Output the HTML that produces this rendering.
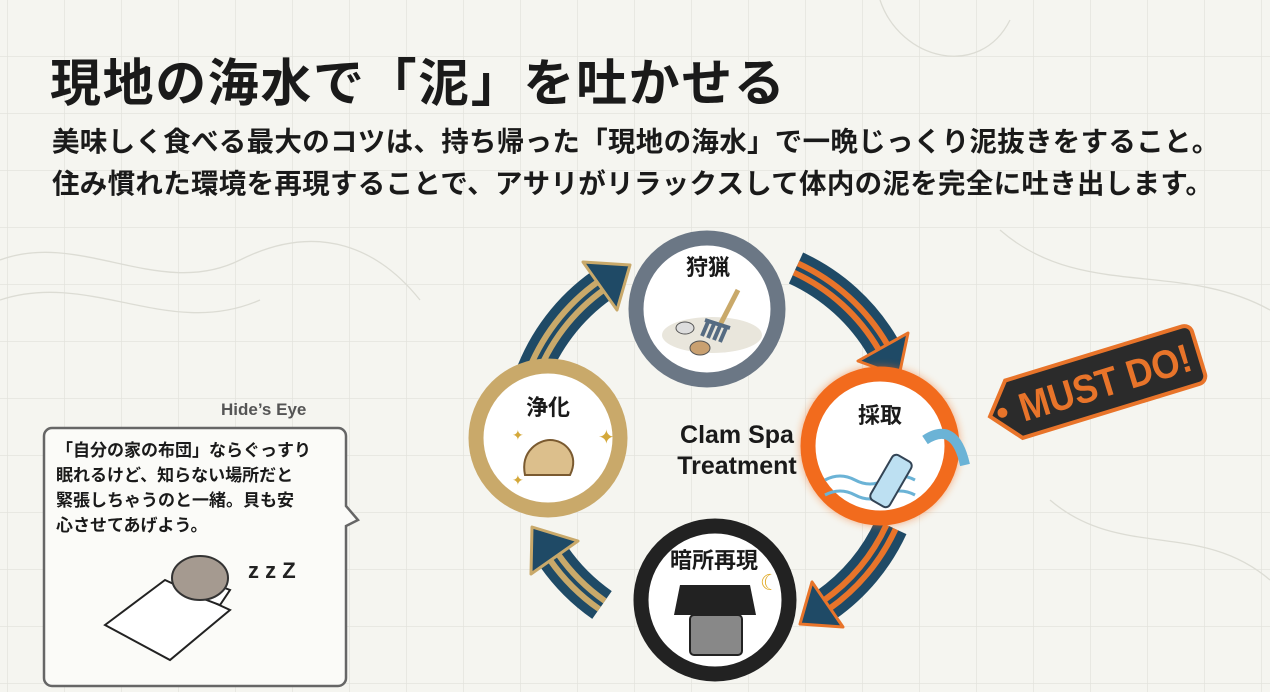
<!DOCTYPE html>
<html><head><meta charset="utf-8"><style>
body{margin:0;width:1270px;height:692px;overflow:hidden;background:#f5f5f0;font-family:"Liberation Sans","Noto Sans CJK JP",sans-serif}
.t{position:absolute;white-space:nowrap;color:#1a1a1a;font-weight:bold}
</style></head><body>
<svg width="1270" height="692" style="position:absolute;left:0;top:0">
<defs><pattern id="g" width="57" height="57" patternUnits="userSpaceOnUse" x="8" y="0"><path d="M57 0V57H0" fill="none" stroke="#e3e3dd" stroke-width="1.5"/></pattern>
<filter id="bl"><feGaussianBlur stdDeviation="4"/></filter></defs>
<rect width="1270" height="692" fill="url(#g)"/>
<g fill="none" stroke="#dcdcd4" stroke-width="1.3">
<path d="M0 260 C80 230 160 300 240 260 S380 250 420 300"/><path d="M0 300 C90 270 170 340 260 300"/><path d="M1000 230 C1080 300 1180 260 1270 310"/><path d="M1050 500 C1120 560 1200 520 1270 580"/><path d="M880 0 C900 60 980 80 1010 20"/></g>
<!-- arrows -->
<g fill="none">
<path d="M531 378 A195 195 0 0 1 602 285" stroke="#1f4a66" stroke-width="34"/>
<path d="M531 378 A195 195 0 0 1 602 285" stroke="#c9a96a" stroke-width="16"/>
<path d="M531 378 A195 195 0 0 1 602 285" stroke="#1f4a66" stroke-width="4"/>
<path d="M796 268 A195 195 0 0 1 883 347" stroke="#1f4a66" stroke-width="34"/>
<path d="M796 268 A195 195 0 0 1 883 347" stroke="#e8742a" stroke-width="16"/>
<path d="M796 268 A195 195 0 0 1 883 347" stroke="#1f4a66" stroke-width="4"/>
<path d="M891 527 A195 195 0 0 1 826 605" stroke="#1f4a66" stroke-width="34"/>
<path d="M891 527 A195 195 0 0 1 826 605" stroke="#e8742a" stroke-width="16"/>
<path d="M891 527 A195 195 0 0 1 826 605" stroke="#1f4a66" stroke-width="4"/>
<path d="M602 605 A195 195 0 0 1 554 557" stroke="#1f4a66" stroke-width="34"/>
<path d="M602 605 A195 195 0 0 1 554 557" stroke="#c9a96a" stroke-width="16"/>
<path d="M602 605 A195 195 0 0 1 554 557" stroke="#1f4a66" stroke-width="4"/>
</g>
<g fill="#1f4a66" stroke="#c9a96a" stroke-width="3" stroke-linejoin="round">
<polygon points="630,265 583,262 617,310"/>
<polygon points="532,527 531,574 578,541"/></g>
<g fill="#1f4a66" stroke="#e8742a" stroke-width="3" stroke-linejoin="round">
<polygon points="899,376 908,333 858,361"/>
<polygon points="800,624 843,627 812,582"/></g>
<!-- circles -->
<circle cx="880" cy="446" r="80" fill="#f26b1d" opacity=".5" filter="url(#bl)"/>
<circle cx="707" cy="309" r="71" fill="#fff" stroke="#6b7785" stroke-width="15"/>
<circle cx="548" cy="438" r="72" fill="#fff" stroke="#c9a96a" stroke-width="15"/>
<circle cx="880" cy="446" r="72" fill="#fff" stroke="#f26b1d" stroke-width="15"/>
<circle cx="715" cy="600" r="74" fill="#fff" stroke="#222" stroke-width="15"/>
<!-- icons -->
<ellipse cx="712" cy="335" rx="50" ry="18" fill="#e9e6dc"/>
<line x1="738" y1="290" x2="720" y2="325" stroke="#c9a96a" stroke-width="5"/>
<path d="M705 320 l25 8 M708 322 l-6 14 M714 324 l-6 14 M720 326 l-6 14 M726 328 l-6 14" stroke="#556b82" stroke-width="4" fill="none"/>
<ellipse cx="685" cy="328" rx="9" ry="6" fill="#ddd" stroke="#555"/>
<ellipse cx="700" cy="348" rx="10" ry="7" fill="#c9a070" stroke="#555"/>
<path d="M525 475 C520 450 540 440 550 440 C565 440 580 455 570 475 Z" fill="#dcbf8c" stroke="#7a5a30" stroke-width="2"/>
<text x="598" y="444" fill="#d4a83a" font-size="20">✦</text><text x="512" y="440" fill="#d4a83a" font-size="14">✦</text><text x="512" y="485" fill="#d4a83a" font-size="14">✦</text>
<path d="M825 480 q15 -8 30 0 t30 0 t30 0 M825 495 q15 -8 30 0 t30 0 t30 0" stroke="#6bb3d6" stroke-width="3" fill="none"/>
<rect x="880" y="455" width="22" height="52" rx="5" transform="rotate(30 891 481)" fill="#bde0f2" stroke="#345" stroke-width="2"/>
<path d="M925 440 q30 -20 40 25" stroke="#6bb3d6" stroke-width="10" fill="none"/>
<rect x="690" y="615" width="52" height="40" rx="4" fill="#888" stroke="#222" stroke-width="2"/>
<path d="M680 585 h70 l6 30 h-82 z" fill="#222"/>
<text x="760" y="590" font-size="22" fill="#e0a820">☾</text>
<!-- tag -->
<g transform="rotate(-17 1093 384)">
<path d="M1010 355 h185 a8 8 0 0 1 8 8 v44 a8 8 0 0 1 -8 8 h-185 l-25 -30 z" fill="#2b2b2b" stroke="#e8742a" stroke-width="4"/>
<circle cx="998" cy="385" r="5" fill="#e8742a"/>
<text x="1105" y="400" text-anchor="middle" font-family="Liberation Sans,sans-serif" font-weight="bold" font-size="40" fill="#e8742a" transform="scale(0.9 1)" style="transform-origin:1105px 385px">MUST DO!</text>
</g>
<!-- speech box -->
<path d="M52 428 h286 a8 8 0 0 1 8 8 v70 l12 14 l-12 6 v152 a8 8 0 0 1 -8 8 h-286 a8 8 0 0 1 -8 -8 v-242 a8 8 0 0 1 8 -8z" fill="#fbfbf8" stroke="#666" stroke-width="2.5"/>
<g fill="#fff" stroke="#222" stroke-width="2"><path d="M105 625 l60 -45 l65 30 l-60 50 z"/><path d="M190 575 l40 15 l-10 15 l-40 -15z"/></g>
<ellipse cx="200" cy="578" rx="28" ry="22" fill="#a59a90" stroke="#333" stroke-width="2"/>
<text x="248" y="578" font-size="22" font-weight="bold" fill="#222" font-family="Liberation Sans,sans-serif">z z Z</text>
</svg>
<div class="t" style="left:50px;top:42px;font-size:51px;letter-spacing:1.6px">現地の海水で「泥」を吐かせる</div>
<div class="t" style="left:52px;top:121px;font-size:27.5px;line-height:42px;letter-spacing:0.3px">美味しく食べる最大のコツは、持ち帰った「現地の海水」で一晩じっくり泥抜きをすること。<br>住み慣れた環境を再現することで、アサリがリラックスして体内の泥を完全に吐き出します。</div>
<div class="t" style="left:221px;top:400px;font-size:17px;color:#555">Hide’s Eye</div>
<div class="t" style="left:56px;top:438px;font-size:17px;line-height:25px">「自分の家の布団」ならぐっすり<br>眠れるけど、知らない場所だと<br>緊張しちゃうのと一緒。貝も安<br>心させてあげよう。</div>
<div class="t" style="left:686px;top:250px;font-size:22px">狩猟</div>
<div class="t" style="left:526px;top:390px;font-size:22px">浄化</div>
<div class="t" style="left:858px;top:398px;font-size:22px">採取</div>
<div class="t" style="left:670px;top:543px;font-size:22px">暗所再現</div>
<div class="t" style="left:660px;top:420px;width:154px;text-align:center;font-size:25px;line-height:31px">Clam Spa<br>Treatment</div>
</body></html>
